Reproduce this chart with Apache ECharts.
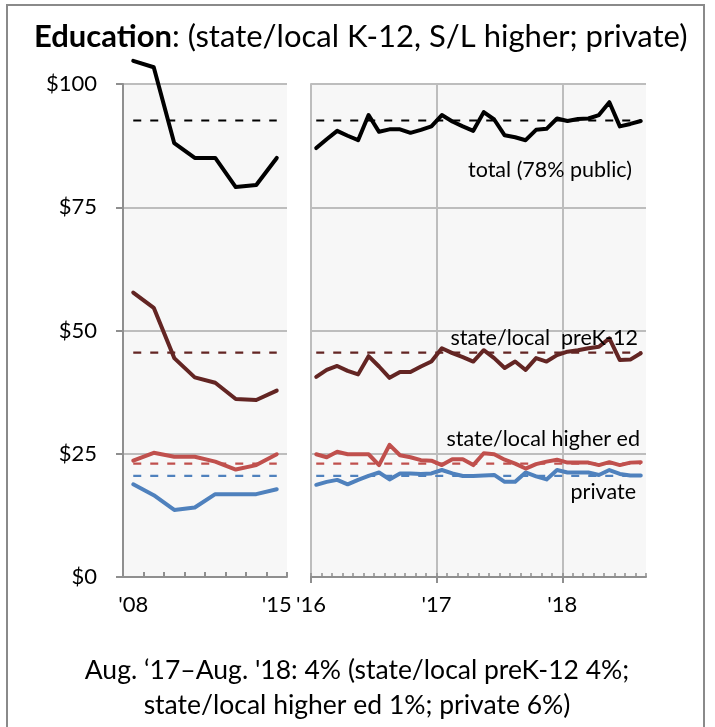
<!DOCTYPE html>
<html>
<head>
<meta charset="utf-8">
<script src="https://cdn.jsdelivr.net/npm/echarts@6/dist/echarts.min.js"></script>
<style>
html,body{margin:0;padding:0;background:#fff;}
#chart{width:715px;height:727px;}
</style>
</head>
<body>
<div id="chart"></div>
<script>
// ---- categories ----
const years = ["'08","'09","'10","'11","'12","'13","'14","'15"];
const months = [
  '2016-01','2016-02','2016-03','2016-04','2016-05','2016-06','2016-07','2016-08','2016-09','2016-10','2016-11','2016-12',
  '2017-01','2017-02','2017-03','2017-04','2017-05','2017-06','2017-07','2017-08','2017-09','2017-10','2017-11','2017-12',
  '2018-01','2018-02','2018-03','2018-04','2018-05','2018-06','2018-07','2018-08'
];
const monthBounds = months.concat(['2018-09']);
const rightTickLabels = {'2016-01':"'16", '2017-01':"'17", '2018-01':"'18"};
const yTickLabels = ['$0','$25','$50','$75','$100'];

// ---- annual values (left panel) ----
const totalYear   = [104.7, 103.4, 88.0, 85.0, 85.0, 79.1, 79.5, 85.0];
const preKYear    = [57.7, 54.6, 44.4, 40.5, 39.4, 36.1, 35.9, 37.8];
const higherYear  = [23.6, 25.2, 24.4, 24.4, 23.4, 21.8, 22.7, 24.9];
const privateYear = [18.8, 16.6, 13.6, 14.1, 16.8, 16.8, 16.8, 17.8];

// ---- monthly values (right panel) ----
const totalMonth = [87.0, 88.8, 90.5, 89.5, 88.6, 93.7, 90.3, 90.8, 90.8, 90.1, 90.7, 91.4,
                    93.7, 92.4, 91.4, 90.5, 94.3, 92.8, 89.6, 89.2, 88.6, 90.7, 90.9, 93.0,
                    92.5, 92.9, 93.0, 93.7, 96.3, 91.4, 91.9, 92.5];
const preKMonth  = [40.6, 42.0, 42.8, 41.8, 41.1, 44.8, 42.7, 40.4, 41.6, 41.6, 42.7, 43.7,
                    46.4, 45.4, 44.6, 43.7, 46.0, 44.4, 42.4, 43.7, 42.0, 44.4, 43.7, 45.0,
                    45.7, 46.0, 46.4, 46.7, 48.4, 44.0, 44.1, 45.4];
const higherMonth = [24.9, 24.3, 25.4, 24.9, 24.9, 24.9, 22.7, 26.8, 24.7, 24.3, 23.7, 23.6,
                     22.7, 23.9, 23.9, 22.7, 25.1, 24.9, 23.8, 23.0, 22.0, 22.9, 23.4, 23.8,
                     23.2, 23.2, 23.2, 22.7, 23.3, 22.7, 23.2, 23.3];
const privateMonth = [18.7, 19.3, 19.7, 18.8, 19.7, 20.5, 21.2, 19.8, 21.0, 21.0, 20.9, 21.0,
                      21.7, 21.0, 20.5, 20.5, 20.6, 20.7, 19.3, 19.3, 21.2, 20.4, 19.8, 21.7,
                      21.2, 21.2, 21.2, 20.7, 21.7, 20.9, 20.6, 20.6];

// ---- long-run averages (dashed reference lines) ----
const avgTotal = 92.6;
const avgPreK = 45.5;
const avgHigher = 23.0;
const avgPrivate = 20.5;

const C_TOTAL = '#000000';
const C_PREK = '#632523';
const C_HIGHER = '#c0504d';
const C_PRIVATE = '#4f81bd';
const FONT = 'Lato';

function solid(name, data, color, xi, yi) {
  return { name, type:'line', data, xAxisIndex:xi, yAxisIndex:yi, symbol:'none', clip:false, z:5,
           lineStyle:{ color, width:4, cap:'round', join:'round' } };
}
function dashed(name, value, n, color, xi, yi) {
  return { name, type:'line', data:new Array(n).fill(value), xAxisIndex:xi, yAxisIndex:yi, symbol:'none', z:3,
           lineStyle:{ color, width:2.2, type:[8,9] } };
}

const gridLine = { show:true, lineStyle:{ color:'#bdbdbd', width:2 } };
const axisGray = '#8f8f8f';

const chart = echarts.init(document.getElementById('chart'), null, {renderer:'canvas'});
chart.setOption({
  animation:false,
  backgroundColor:'#ffffff',
  textStyle:{ fontFamily:FONT },
  title:{
    text:'{b|Educa\u200Ction}{n|: (state/local K-12, S/L higher; private)}',
    left:29, top:16,
    textStyle:{ rich:{
      b:{ fontFamily:FONT, fontWeight:'bold', fontSize:31, color:'#000' },
      n:{ fontFamily:FONT, fontWeight:'normal', fontSize:31, color:'#000' }
    }}
  },
  grid:[
    { left:123, top:84, width:164, height:493, show:true, backgroundColor:'#f7f7f7', borderWidth:0 },
    { left:311, top:84, width:335, height:493, show:true, backgroundColor:'#f7f7f7', borderWidth:0 }
  ],
  xAxis:[
    { type:'category', gridIndex:0, data:years, boundaryGap:true,
      axisLine:{ show:true, lineStyle:{ color:axisGray, width:2 } },
      axisTick:{ show:true, inside:true, length:5, interval:0, lineStyle:{ color:axisGray, width:2 } },
      axisLabel:{ interval:(i)=> i===0 || i===years.length-1, margin:17, fontSize:22, color:'#000', fontFamily:FONT },
      splitLine:{ show:false } },
    { type:'category', gridIndex:1, data:months, boundaryGap:true,
      axisLine:{ show:true, lineStyle:{ color:axisGray, width:2 } },
      axisTick:{ show:true, inside:true, length:4, interval:0, lineStyle:{ color:axisGray, width:1.5 } },
      axisLabel:{ show:false }, splitLine:{ show:false } },
    { type:'category', gridIndex:1, data:monthBounds, boundaryGap:false, position:'bottom',
      axisLine:{ show:false },
      axisTick:{ show:true, inside:false, length:6, interval:(i,v)=> v in rightTickLabels, lineStyle:{ color:axisGray, width:2 } },
      axisLabel:{ interval:0, formatter:(v)=> rightTickLabels[v] || '', margin:17, fontSize:22, color:'#000', fontFamily:FONT },
      splitLine:{ show:true, interval:(i,v)=> (v in rightTickLabels) && i>0, lineStyle:{ color:'#bdbdbd', width:2 } } }
  ],
  yAxis:[
    { type:'value', gridIndex:0, min:0, max:100, interval:25,
      axisLine:{ show:true, lineStyle:{ color:axisGray, width:2 } },
      axisTick:{ show:true, length:7, lineStyle:{ color:axisGray, width:2 } },
      axisLabel:{ formatter:(v)=> yTickLabels[v/25], margin:26, fontSize:22, color:'#000', fontFamily:FONT },
      splitLine:gridLine },
    { type:'value', gridIndex:1, min:0, max:100, interval:25,
      axisLine:{ show:true, lineStyle:{ color:'#bdbdbd', width:2 } },
      axisTick:{ show:false }, axisLabel:{ show:false },
      splitLine:gridLine }
  ],
  series:[
    dashed('total avg L', avgTotal, years.length, C_TOTAL, 0, 0),
    dashed('preK avg L', avgPreK, years.length, C_PREK, 0, 0),
    dashed('higher avg L', avgHigher, years.length, C_HIGHER, 0, 0),
    dashed('private avg L', avgPrivate, years.length, C_PRIVATE, 0, 0),
    dashed('total avg R', avgTotal, months.length, C_TOTAL, 1, 1),
    dashed('preK avg R', avgPreK, months.length, C_PREK, 1, 1),
    dashed('higher avg R', avgHigher, months.length, C_HIGHER, 1, 1),
    dashed('private avg R', avgPrivate, months.length, C_PRIVATE, 1, 1),
    solid('private L', privateYear, C_PRIVATE, 0, 0),
    solid('higher L', higherYear, C_HIGHER, 0, 0),
    solid('preK L', preKYear, C_PREK, 0, 0),
    solid('total L', totalYear, C_TOTAL, 0, 0),
    solid('private R', privateMonth, C_PRIVATE, 1, 1),
    solid('higher R', higherMonth, C_HIGHER, 1, 1),
    solid('preK R', preKMonth, C_PREK, 1, 1),
    solid('total R', totalMonth, C_TOTAL, 1, 1)
  ],
  graphic:[
    { type:'rect', z:-1, shape:{ x:7, y:5, width:697, height:760 }, style:{ fill:'none', stroke:'#8a8a8a', lineWidth:2 } },
    { type:'text', z:10, x:632, y:170, style:{ text:'total (78% public)', textAlign:'right', textVerticalAlign:'middle', fontFamily:FONT, fontSize:21.5, fill:'#000' } },
    { type:'text', z:10, x:638, y:338, style:{ text:'state/local  preK-12', textAlign:'right', textVerticalAlign:'middle', fontFamily:FONT, fontSize:21.5, fill:'#000' } },
    { type:'text', z:10, x:640, y:439, style:{ text:'state/local higher ed', textAlign:'right', textVerticalAlign:'middle', fontFamily:FONT, fontSize:21.5, fill:'#000' } },
    { type:'text', z:10, x:636, y:492, style:{ text:'private', textAlign:'right', textVerticalAlign:'middle', fontFamily:FONT, fontSize:21.5, fill:'#000' } },
    { type:'text', z:10, x:357, y:670, style:{ text:"Aug. \u201817\u2013Aug. '18: 4% (state/local preK-12 4%;", textAlign:'center', textVerticalAlign:'middle', fontFamily:FONT, fontSize:26.5, fill:'#000' } },
    { type:'text', z:10, x:357, y:705, style:{ text:'state/local higher ed 1%; private 6%)', textAlign:'center', textVerticalAlign:'middle', fontFamily:FONT, fontSize:26.5, fill:'#000' } }
  ]
});
</script>
</body>
</html>
